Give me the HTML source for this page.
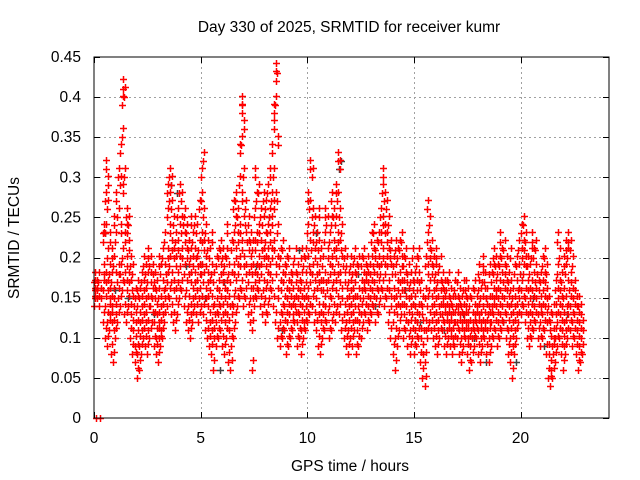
<!DOCTYPE html>
<html><head><meta charset="utf-8"><style>
html,body{margin:0;padding:0;background:#fff;}
svg{display:block;font-family:"Liberation Sans",sans-serif;}
</style></head><body>
<svg id="chart" width="640" height="480" viewBox="0 0 640 480">
<rect width="640" height="480" fill="#fff"/>
<text x="349" y="32" font-size="15.5" text-anchor="middle" fill="#000">Day 330 of 2025, SRMTID for receiver kumr</text>
<text x="350" y="471" font-size="15.5" text-anchor="middle" fill="#000">GPS time / hours</text>
<text transform="translate(19,238) rotate(-90)" font-size="15.5" text-anchor="middle" fill="#000">SRMTID / TECUs</text>
<g id="grid"></g>
<g id="ticks"></g>
<g id="marks"></g>
<rect x="94" y="57" width="515" height="361" fill="none" stroke="#000" stroke-width="1"/>
</svg>
<script>
const xTicks = [0, 5, 10, 15, 20];
const yTicks = [0, 0.05, 0.1, 0.15, 0.2, 0.25, 0.3, 0.35, 0.4, 0.45];
const yTickLabels = ["0", "0.05", "0.1", "0.15", "0.2", "0.25", "0.3", "0.35", "0.4", "0.45"];
// red series: hours per column, values in 0.01 TECU
const redHours = [0,0.1,0.2,0.3,0.4,0.5,0.6,0.7,0.8,0.9,1,1.1,1.2,1.3,1.4,1.5,1.6,1.7,1.8,1.9,2,2.1,2.2,2.3,2.4,2.5,2.6,2.7,2.8,2.9,3,3.1,3.2,3.3,3.4,3.5,3.6,3.7,3.8,3.9,4,4.1,4.2,4.3,4.4,4.5,4.6,4.7,4.8,4.9,5,5.1,5.2,5.3,5.4,5.5,5.6,5.7,5.8,5.9,6,6.1,6.2,6.3,6.4,6.5,6.6,6.7,6.8,6.9,7,7.1,7.2,7.3,7.4,7.5,7.6,7.7,7.8,7.9,8,8.1,8.2,8.3,8.4,8.5,8.6,8.7,8.8,8.9,9,9.1,9.2,9.3,9.4,9.5,9.6,9.7,9.8,9.9,10,10.1,10.2,10.3,10.4,10.5,10.6,10.7,10.8,10.9,11,11.1,11.2,11.3,11.4,11.5,11.6,11.7,11.8,11.9,12,12.1,12.2,12.3,12.4,12.5,12.6,12.7,12.8,12.9,13,13.1,13.2,13.3,13.4,13.5,13.6,13.7,13.8,13.9,14,14.1,14.2,14.3,14.4,14.5,14.6,14.7,14.8,14.9,15,15.1,15.2,15.3,15.4,15.5,15.6,15.7,15.8,15.9,16,16.1,16.2,16.3,16.4,16.5,16.6,16.7,16.8,16.9,17,17.1,17.2,17.3,17.4,17.5,17.6,17.7,17.8,17.9,18,18.1,18.2,18.3,18.4,18.5,18.6,18.7,18.8,18.9,19,19.1,19.2,19.3,19.4,19.5,19.6,19.7,19.8,19.9,20,20.1,20.2,20.3,20.4,20.5,20.6,20.7,20.8,20.9,21,21.1,21.2,21.3,21.4,21.5,21.6,21.7,21.8,21.9,22,22.1,22.2,22.3,22.4,22.5,22.6,22.7,22.8,22.9];
const redValues = [
[17,15,16,14],[0,16,15],[17,14],[0,15],[12,16,18,22,23],[10,14,17,23,27,31],[9,12,16,20,26,29],[11,13,15,18,22],[8,12,14,17,20],[7,11,15,19,24],
[10,13,17,22,27],[12,15,18,25,30],[14,18,23,29,33],[16,20,28,35,39,41],[13,17,22,30,40],[12,16,19,25,23],[14,17,21,24],[10,13,16,19],[8,11,14,18],[7,9,12,15],
[5,8,11,14,16],[6,9,12,15],[8,11,14,17],[10,13,16,19],[9,12,15,18],[8,11,14,17,20],[10,14,17,19],[12,15,18],[9,12,15,17],[8,10,13,16],
[7,10,12,15,19],[9,11,14,18],[10,13,16,20],[12,15,18,22],[14,17,20,25,28],[15,19,23,27,30],[13,17,21,26,29],[12,16,20,24],[11,15,19,22],[13,17,21,25],
[15,19,23,28],[16,20,24,27],[14,18,22,25],[12,16,20,23],[11,14,18,21],[10,13,17,20,24],[12,15,19,22],[14,17,20,24],[13,16,19,23],[12,15,18,21,26],
[14,18,22,27,30],[13,17,21,25,32],[11,15,19,23],[10,14,17,21],[9,12,16,20],[8,11,14,18,22],[6,10,13,17],[9,12,15,19],[10,13,16,20],[11,14,18,21],
[9,13,17,20],[8,12,15,19],[10,13,16,20,23],[7,11,14,18],[6,9,13,17,21],[10,14,18,22,26],[12,16,20,24,27],[14,18,22,25],[15,19,23,29,33],[16,21,27,34,38,39],
[14,19,24,30,36],[15,18,22,26],[13,17,21,24],[12,15,19,22],[6,11,15,18,21],[14,17,21,25,30],[15,18,22,27],[16,19,23,28],[14,18,21,25],[13,16,20,24,27],
[12,15,19,22,26],[13,17,20,23,28],[15,18,22,25,30],[16,20,24,27,33],[14,21,26,30,36,38],[12,18,27,39,42,43],[10,15,19,23,34],[9,12,16,20],[10,13,17,21],[11,14,18],
[8,12,15,19],[9,13,16,20],[10,14,17],[11,13,15,18],[12,14,17,20],[9,12,15,18],[10,13,16],[8,11,14,17,20],[10,12,15,19],[11,14,17,20],
[12,15,19,23,27],[13,17,21,26,31],[14,18,22,25,30],[12,16,20,24],[11,15,18,22],[9,13,17,21,25],[8,12,16,20],[10,13,16,19],[11,14,17,22,25],[12,16,20,24],
[10,14,18,22],[11,15,19,24,27],[13,17,21,25],[12,16,20,24,28],[14,18,22,27,32],[13,17,21,25,31],[11,15,19,23],[10,13,17,20],[9,12,15,19],[8,11,14,17],
[10,13,16,19],[9,12,15,18],[11,14,17,20],[8,11,14,18],[9,12,15,19],[10,13,16,19],[12,15,17,20],[13,16,18],[11,14,17,19],[12,15,18],
[13,16,19,22],[14,17,20,23],[12,15,18,21],[13,16,19,22],[15,18,22,25],[16,20,24,28,30],[14,18,23,27],[15,19,22,26],[12,16,20,24],[10,14,18,21],
[8,12,15,19],[6,10,14,18,21],[9,13,16,20],[11,14,17,21],[13,16,19,22],[10,13,16,19],[11,14,17,20],[9,12,15,18],[8,11,14,17],[10,13,16,20],
[8,11,14,17],[9,12,16,19],[10,13,17,20],[7,10,13,16],[5,8,11,14],[4,7,11,15,19],[10,14,18,22,26],[12,16,20,24],[11,14,18,21],[10,13,16,19],
[9,12,15,18,20],[8,11,14,17],[10,13,16,19],[11,13,15,17],[9,12,14,16],[8,11,13,16],[10,12,14,17],[9,11,13,15],[8,10,12,14],[9,12,14,16],
[10,12,14,17],[8,11,13,15],[7,10,12,14],[9,11,13,16],[10,12,14,16],[8,10,12,15],[6,9,11,14],[7,10,12,15],[9,11,13,16],[10,12,14],
[8,11,13,16,18],[7,10,12,15],[9,11,14,17,19],[10,12,15,17],[8,11,13,15],[7,10,12,14,18],[9,12,14,17],[10,13,15,18,20],[11,14,16,19],[9,12,15,18],
[10,13,16,19,22],[11,14,17,20],[12,15,18,21],[10,13,16,19],[8,11,14,17],[7,10,13,16,20],[5,9,12,15],[8,11,14,18],[10,13,16,19],[12,15,18,21],
[13,16,20,23],[14,18,21,24],[12,15,19,22],[10,13,16,19],[9,12,15,18],[10,13,16,20,22],[11,14,17,20],[12,15,18,21],[10,13,16],[9,12,14,17],
[10,13,16,19],[11,14,17,20],[8,12,15,18],[5,8,11,14],[4,6,9,12],[5,8,10,13],[7,10,13,16],[9,12,15,18,22],[10,13,16,20],[8,11,14,17],
[6,9,12,15,19],[8,11,14,18,21],[10,13,16,20,22],[11,14,17,21],[9,12,15,19],[10,13,16],[8,11,14],[6,9,12,14],[7,10,13],[8,11]
];
// gray series (hours, values in 0.01 TECU)
const grayHours = [0.5,1.0,1.6,2.8,3.6,3.9,4.3,5.2,5.9,6.1,7.6,8.2,8.8,9.6,10.4,11.5,11.6,12.4,13.2,14.6,15.3,16.4,17.3,17.8,18.4,19.2,19.8,20.6,21.1,22.2];
const grayValues = [23,16,15,13,29,28,19,15,6,17,19,25,11,21,23,31,32,18,14,16,12,11,13,10,7,12,7,15,9,13];

const X = h => 94 + h * (515 / 24.15);
const Y = v => 418 - v * (361 / 0.45);
const NS = "http://www.w3.org/2000/svg";
const grid = document.getElementById('grid');
const ticks = document.getElementById('ticks');
const marks = document.getElementById('marks');

function line(parent, x1, y1, x2, y2, stroke, dash) {
  const l = document.createElementNS(NS, 'line');
  l.setAttribute('x1', x1); l.setAttribute('y1', y1);
  l.setAttribute('x2', x2); l.setAttribute('y2', y2);
  l.setAttribute('stroke', stroke); l.setAttribute('stroke-width', 1);
  if (dash) l.setAttribute('stroke-dasharray', dash);
  parent.appendChild(l);
  return l;
}
function text(parent, x, y, s, anchor) {
  const t = document.createElementNS(NS, 'text');
  t.setAttribute('x', x); t.setAttribute('y', y);
  t.setAttribute('font-size', 15.5); t.setAttribute('text-anchor', anchor);
  t.textContent = s;
  parent.appendChild(t);
  return t;
}
xTicks.forEach(h => {
  const x = Math.round(X(h)) + 0.5;
  if (h > 0) {
    const g = line(grid, x, 57, x, 418, '#a0a0a0', '2,3');
    
    
  }
  const t1 = line(ticks, x, 418, x, 412, '#000');
  
  
  const t2 = line(ticks, x, 57, x, 63, '#000');
  
  
  const lb = text(ticks, X(h), 443, String(h), 'middle');
  
  
});
yTicks.forEach((v, i) => {
  const y = Math.round(Y(v)) + 0.5;
  if (i > 0 && i < yTicks.length - 1) {
    const g = line(grid, 94, y, 609, y, '#a0a0a0', '2,3');
    
    
  }
  const t1 = line(ticks, 94, y, 100, y, '#000');
  
  
  const t2 = line(ticks, 609, y, 603, y, '#000');
  
  
  const lb = text(ticks, 81, Y(v) + 5, yTickLabels[i], 'end');
  
  
});
function plus(h, v, color, name) {
  const x = Math.round(X(h)) + 0.5, y = Math.round(Y(v)) + 0.5;
  const p = document.createElementNS(NS, 'path');
  p.setAttribute('d', `M${x-3.5} ${y}H${x+3.5}M${x} ${y-3.5}V${y+3.5}`);
  p.setAttribute('stroke', color);
  p.setAttribute('stroke-width', 1.5);
  p.setAttribute('fill', 'none');
  
  
  marks.appendChild(p);
}
grayHours.forEach((h, i) => plus(h, grayValues[i] / 100, '#404040', 'gray-point'));
redHours.forEach((h, i) => {
  redValues[i].forEach((v, k) => {
    plus(h + (k % 3) * 0.03, v / 100, '#ff0000', 'red-point');
    if (v > 0) plus(h + 0.05, v / 100 + 0.012, '#ff0000', 'red-point');
  });
});
</script>
</body></html>
